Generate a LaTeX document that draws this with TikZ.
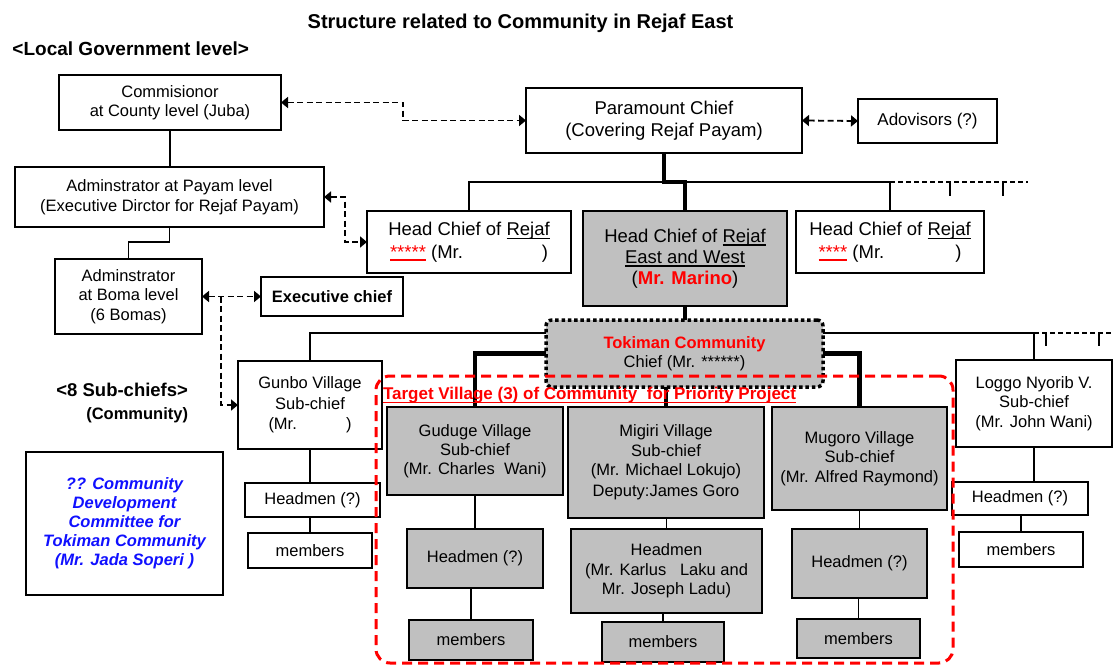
\documentclass[tikz,border=0pt]{standalone}
\usepackage{fontspec}
\setmainfont{Liberation Sans}
\usetikzlibrary{arrows.meta}
\definecolor{boxgray}{RGB}{192,192,192}
\definecolor{hired}{RGB}{255,0,0}
\definecolor{cdcblue}{RGB}{16,16,255}
% underline with a rule of chosen thickness
\newcommand{\uln}[2][1.3pt]{\leavevmode\setbox0\hbox{#2}\rlap{\rule[-3.4pt]{\wd0}{#1}}\box0}
\begin{document}
\begin{tikzpicture}[x=1pt,y=-1pt,
  every node/.style={inner sep=0pt,outer sep=0pt,align=center,font=\fontsize{16.5}{19.5}\selectfont},
  box/.style={draw,line width=1.8pt,fill=white},
  gbox/.style={draw,line width=1.8pt,fill=boxgray},
  big/.style={font=\fontsize{18.5}{22.5}\selectfont},
  tokbox/.style={draw,fill=boxgray,line width=3.5pt,dash pattern=on 3.5pt off 2.8pt,rounded corners=6pt},
  tgframe/.style={draw=hired,line width=3pt,dash pattern=on 10pt off 6pt,rounded corners=14pt},
  link/.style={line width=1.6pt},
  trunk/.style={line width=4.5pt,line join=miter},
  dlink/.style={line width=1.8pt,dash pattern=on 6pt off 3.5pt},
  dlinktwo/.style={line width=1.6pt,dash pattern=on 5pt off 3pt},
  darrow/.style={dlink,{Triangle[length=7pt,width=11pt]}-{Triangle[length=7pt,width=11pt]}}
]
\fill[white] (0,0) rectangle (1114,666);
\useasboundingbox (0,0) rectangle (1114,666);

% headings
\node[font=\bfseries\fontsize{20}{24}\selectfont] (title) at (520.5,23) {Structure related to Community in Rejaf East};
\node[font=\bfseries\fontsize{19}{23}\selectfont,anchor=west] (lgl) at (12.5,49) {<Local Government level>};
\node[font=\bfseries\fontsize{18.5}{22}\selectfont,anchor=east] (subh) at (188,390) {<8 Sub-chiefs>};
\node[font=\bfseries\fontsize{16.5}{19.5}\selectfont,anchor=east] (subc) at (188,415) {(Community)};

% local government
\node[box,minimum width=222pt,minimum height=55pt] (com) at (170,102.5) {Commisionor\\at County level (Juba)};
\node[box,minimum width=309pt,minimum height=60pt] (pay) at (169.5,197) {Adminstrator at Payam level\\(Executive Dirctor for Rejaf Payam)};
\node[box,minimum width=147pt,minimum height=75pt] (bom) at (128.5,296.5) {Adminstrator\\at Boma level\\(6 Bomas)};
\node[box,minimum width=142pt,minimum height=39pt,font=\bfseries\fontsize{16.5}{19.5}\selectfont] (exe) at (332,296.5) {Executive chief};

% chiefs
\node[box,big,minimum width=276pt,minimum height=65pt] (par) at (664,120.5) {Paramount Chief\\(Covering Rejaf Payam)};
\node[box,minimum width=139pt,minimum height=44pt,font=\fontsize{17}{20}\selectfont] (adv) at (927.5,121) {Adovisors (?)};
\node[box,big,minimum width=204pt,minimum height=62pt] (hc1) at (469,242) {Head Chief of \uln{Rejaf}\\\makebox[158pt][l]{\textcolor{hired}{\uln[2pt]{*****}} (Mr.\hfill)}};
\node[gbox,font=\fontsize{18.5}{21}\selectfont,minimum width=204pt,minimum height=95pt] (mar) at (685,258.5) {Head Chief of \uln{Rejaf}\\\uln{East and West}\\(\textcolor{hired}{\bfseries Mr. Marino})};
\node[box,big,minimum width=188pt,minimum height=62pt] (hc3) at (890,242) {Head Chief of \uln{Rejaf}\\\makebox[143pt][l]{\textcolor{hired}{\uln[2pt]{****}} (Mr.\hfill)}};
\node[tokbox,minimum width=277pt,minimum height=67pt] (tok) at (684.5,353.5) {\textcolor{hired}{\bfseries Tokiman Community}\\Chief (Mr. ******)};

% villages
\node[box,font=\fontsize{16.5}{20.5}\selectfont,minimum width=144pt,minimum height=88pt] (gun) at (310,405) {Gunbo Village\\Sub-chief\\\makebox[83pt][l]{(Mr.\hfill)}};
\node[box,minimum width=135pt,minimum height=34pt] (ghm) at (312.5,500) {Headmen (?)};
\node[box,minimum width=124pt,minimum height=35pt] (gmb) at (310,550.5) {members};

\node[gbox,font=\fontsize{16.5}{19}\selectfont,minimum width=176pt,minimum height=88pt] (gud) at (475,451) {Guduge Village\\Sub-chief\\(Mr. Charles\ \ Wani)};
\node[gbox,minimum width=136pt,minimum height=59pt] (dhm) at (475,558.5) {Headmen (?)};
\node[gbox,minimum width=124pt,minimum height=40pt] (dmb) at (471,640) {members};

\node[gbox,minimum width=196pt,minimum height=111pt] (mig) at (666,462.5) {Migiri Village\\Sub-chief\\(Mr. Michael Lokujo)\\[1.5pt]Deputy:James Goro};
\node[gbox,minimum width=191pt,minimum height=84pt] (mhm) at (666.5,571) {Headmen\\(Mr. Karlus\ \ \ Laku and\\Mr. Joseph Ladu)};
\node[gbox,minimum width=122pt,minimum height=40pt] (mmb) at (663,642) {members};

\node[gbox,minimum width=175pt,minimum height=103pt] (mug) at (859.5,458.5) {Mugoro Village\\Sub-chief\\(Mr. Alfred Raymond)};
\node[gbox,minimum width=135pt,minimum height=69pt] (uhm) at (859.5,563.5) {Headmen (?)};
\node[gbox,minimum width=123pt,minimum height=39pt] (umb) at (858.5,638.5) {members};

\node[box,minimum width=156pt,minimum height=87pt] (log) at (1034,403.5) {Loggo Nyorib V.\\Sub-chief\\(Mr. John Wani)};
\node[box,minimum width=136pt,minimum height=33pt] (lhm) at (1020,498.5) {Headmen (?)};
\node[box,minimum width=124pt,minimum height=35pt] (lmb) at (1021,549.5) {members};

\node[box,minimum width=197pt,minimum height=143pt,font=\bfseries\itshape\fontsize{16.5}{19}\selectfont,text=cdcblue] (cdc) at (124.5,523.5) {?? Community\\Development\\Committee for\\Tokiman Community\\(Mr. Jada Soperi )};

% government links
\draw[link] (com.south) -- (com.south |- pay.north);
\draw[link] (pay.south) -- ++(0,15) -| (bom.north);
\draw[darrow] (com.east) -- ++(122,0) |- (par.west);
\draw[darrow] (par.east) -- (adv.west);
\draw[darrow] (pay.east) -- ++(21,0) |- (hc1.west);
\draw[darrow] (bom.east) -- (exe.west);
\path (bom.east) ++(19,0) coordinate (bj);
\draw[dlink,-{Triangle[length=7pt,width=11pt]}] (bj) |- (gun.west);

% head chief bus
\coordinate (bus) at (0,182);
\coordinate (busend) at (1028,182);
\coordinate (tk1) at (950,182);
\coordinate (tk2) at (1003,182);
\draw[link] (hc1.north) -- (hc1.north |- bus) -- (hc3.north |- bus) -- (hc3.north);
\draw[dlinktwo] (hc3.north |- bus) -- (busend);
\draw[link] (tk1) -- ++(0,14);
\draw[link] (tk2) -- ++(0,14);
\draw[trunk] (par.south) -- (par.south |- bus) -| (mar.north);
\draw[trunk] (mar.south) -- (mar.south |- tok.north);

% sub-chief bus
\coordinate (subend) at (1114,333);
\coordinate (tk3) at (1046,333);
\coordinate (tk4) at (1099,333);
\draw[link] (gun.north) |- ([yshift=-13pt]tok.north west);
\draw[link] ([yshift=-13pt]tok.north east) -| (log.north);
\draw[dlinktwo] (log.north |- subend) -- (subend);
\draw[link] (tk3) -- ++(0,13);
\draw[link] (tk4) -- ++(0,13);
\draw[trunk] (tok.west) -| (gud.north);
\draw[trunk] (tok.east) -| (mug.north);
\draw[trunk] (mig.north |- tok.south) -- (mig.north);

% village chains
\draw[link] (gun.south) -- (gun.south |- ghm.north);
\draw[link] (gmb.north) -- (gmb.north |- ghm.south);
\draw[link] (gud.south) -- (gud.south |- dhm.north);
\draw[link] (dmb.north) -- (dmb.north |- dhm.south);
\draw[link] (mhm.north) -- (mhm.north |- mig.south);
\draw[link] (mmb.north) -- (mmb.north |- mhm.south);
\draw[link] (mug.south) -- (mug.south |- uhm.north);
\draw[link] (umb.north) -- (umb.north |- uhm.south);
\draw[link] (log.south) -- (log.south |- lhm.north);
\draw[link] (lmb.north) -- (lmb.north |- lhm.south);

% priority target frame
\node[tgframe,minimum width=577pt,minimum height=287pt] (tgt) at (664.5,519.5) {};
\node[anchor=west,font=\bfseries\fontsize{17}{20}\selectfont,text=hired] (tgl) at (383,395.5) {\uln[1.5pt]{Target Village (3) of Community\ \ for Priority Project}};
\end{tikzpicture}
\end{document}
